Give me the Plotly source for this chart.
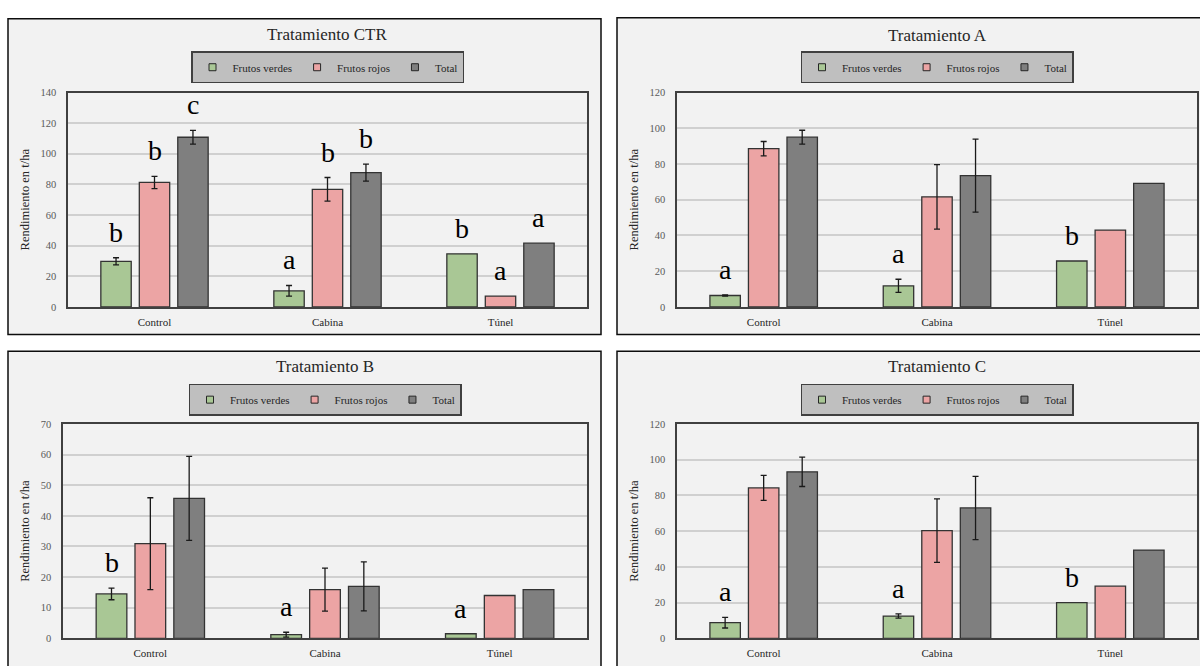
import plotly.graph_objects as go

W, H = 1200, 666
FONT = "'Liberation Serif', 'Times New Roman', serif"

categories = ["Control", "Cabina", "Túnel"]
series_names = ["Frutos verdes", "Frutos rojos", "Total"]
series_colors = ["#a9c795", "#eca4a4", "#7f7f7f"]

panel_titles = ["Tratamiento CTR", "Tratamiento A", "Tratamiento B", "Tratamiento C"]
y_max = [140, 120, 70, 120]
y_step = [20, 20, 10, 20]

# Yield means (t/ha) per panel: [Frutos verdes, Frutos rojos, Total] x [Control, Cabina, Túnel]
ctr_verdes = [29.8, 10.5, 34.7]
ctr_rojos = [81.3, 76.8, 7.1]
ctr_total = [110.8, 87.7, 41.6]

a_verdes = [6.4, 11.8, 25.7]
a_rojos = [88.6, 61.6, 43.0]
a_total = [95.0, 73.5, 69.1]

b_verdes = [14.5, 1.2, 1.5]
b_rojos = [30.9, 15.9, 14.0]
b_total = [45.7, 17.0, 15.9]

c_verdes = [8.8, 12.5, 20.0]
c_rojos = [84.2, 60.3, 29.2]
c_total = [93.2, 73.0, 49.4]

# Standard errors (None = no error bar)
ctr_verdes_err = [2.3, 3.5, None]
ctr_rojos_err = [4.0, 7.7, None]
ctr_total_err = [4.5, 5.6, None]

a_verdes_err = [0.4, 3.7, None]
a_rojos_err = [4.0, 18.0, None]
a_total_err = [3.9, 20.4, None]

b_verdes_err = [1.9, 0.8, None]
b_rojos_err = [15.0, 7.0, None]
b_total_err = [13.7, 8.0, None]

c_verdes_err = [3.0, 1.2, None]
c_rojos_err = [7.0, 17.8, None]
c_total_err = [8.2, 17.7, None]

# Significance letters: (category index, series index, letter)
ctr_letters = [(0, 0, "b"), (0, 1, "b"), (0, 2, "c"),
               (1, 0, "a"), (1, 1, "b"), (1, 2, "b"),
               (2, 0, "b"), (2, 1, "a"), (2, 2, "a")]
a_letters = [(0, 0, "a"), (1, 0, "a"), (2, 0, "b")]
b_letters = [(0, 0, "b"), (1, 0, "a"), (2, 0, "a")]
c_letters = [(0, 0, "a"), (1, 0, "a"), (2, 0, "b")]

values = [
    [ctr_verdes, ctr_rojos, ctr_total],
    [a_verdes, a_rojos, a_total],
    [b_verdes, b_rojos, b_total],
    [c_verdes, c_rojos, c_total],
]
errors = [
    [ctr_verdes_err, ctr_rojos_err, ctr_total_err],
    [a_verdes_err, a_rojos_err, a_total_err],
    [b_verdes_err, b_rojos_err, b_total_err],
    [c_verdes_err, c_rojos_err, c_total_err],
]
letters = [ctr_letters, a_letters, b_letters, c_letters]

# Layout in pixels: plot areas, panel frames, title / legend positions
plot_boxes = [(68, 587, 89, 307), (677, 1197, 89, 307),
              (63, 587, 426, 644), (677, 1197, 426, 644)]
frames = [(8, 601, 14, 335), (617, 1215, 13, 335),
          (8, 601, 352, 680), (617, 1215, 352, 680)]
title_y = [30, 31, 368, 368]
legend_top = [47, 47, 385, 385]

BAR_GAP = 0.333
GROUP_GAP = 0.21
slot = (1 - BAR_GAP) / 3


def px_x(v):
    return v / W


def px_y(v):
    return 1 - v / H


def error_array(errs):
    # plotly skips error bars for points beyond the end of the array,
    # so trailing missing values are dropped instead of drawn as zero
    out = list(errs)
    while out and out[-1] is None:
        out.pop()
    return out


fig = go.Figure()
annotations = []
shapes = []

for p in range(4):
    sfx = "" if p == 0 else str(p + 1)
    xa, ya = "x" + sfx, "y" + sfx
    leg = "legend" + sfx
    for k in range(3):
        fig.add_trace(go.Bar(
            x=categories, y=values[p][k], name=series_names[k],
            xaxis=xa, yaxis=ya, showlegend=False,
            marker=dict(color=series_colors[k], line=dict(color="#333333", width=1.3)),
            error_y=dict(type="data", array=error_array(errors[p][k]), visible=True,
                         color="#1a1a1a", thickness=1.3, width=3),
        ))
    # legend entries drawn as small squares
    for k in range(3):
        fig.add_trace(go.Scatter(
            x=[None], y=[None], mode="markers", name=series_names[k],
            xaxis=xa, yaxis=ya, legend=leg, showlegend=True,
            marker=dict(symbol="square", size=7, color=series_colors[k],
                        line=dict(color="#262626", width=1)),
        ))

    x0, x1, y0, y1 = plot_boxes[p]
    axis_common = dict(showline=True, mirror=True, linecolor="#404040", linewidth=1.5)
    fig.layout["xaxis" + sfx] = dict(
        domain=[px_x(x0), px_x(x1)], anchor=ya, type="category",
        categoryorder="array", categoryarray=categories,
        tickfont=dict(family=FONT, size=11, color="#262626"),
        showgrid=False, ticks="", ticklabelstandoff=4, **axis_common)
    fig.layout["yaxis" + sfx] = dict(
        domain=[px_y(y1), px_y(y0)], anchor=xa, range=[0, y_max[p]],
        dtick=y_step[p], tick0=0,
        tickfont=dict(family=FONT, size=10.5, color="#595959"),
        showgrid=True, gridcolor="#d0d0d0", gridwidth=1.5, zeroline=False,
        ticks="", ticklabelstandoff=8,
        title=dict(text="Rendimiento en t/ha", standoff=8,
                   font=dict(family=FONT, size=12.5, color="#262626")),
        **axis_common)

    cx = (x0 + x1) / 2
    annotations.append(dict(
        text=panel_titles[p], xref="paper", yref="paper",
        x=px_x(cx), y=px_y(title_y[p]), xanchor="center", yanchor="middle",
        showarrow=False, font=dict(family=FONT, size=17, color="#262626")))

    fig.layout[leg] = dict(
        orientation="h", x=px_x(cx), y=px_y(legend_top[p]),
        xanchor="center", yanchor="top", xref="paper", yref="paper",
        bgcolor="#bfbfbf", bordercolor="#404040", borderwidth=1.5,
        font=dict(family=FONT, size=11, color="#262626"),
        itemclick=False, itemdoubleclick=False)

    for (ci, k, letter) in letters[p]:
        top = values[p][k][ci] + (errors[p][k][ci] or 0)
        annotations.append(dict(
            text=letter, xref=xa, yref=ya,
            x=ci + (k - 1) * slot, y=top, xanchor="center", yanchor="bottom",
            yshift=8, showarrow=False,
            font=dict(family=FONT, size=28, color="#000000")))

    fx0, fx1, fy0, fy1 = frames[p]
    shapes.append(dict(
        type="rect", xref="paper", yref="paper", layer="below",
        x0=px_x(fx0), x1=px_x(fx1), y0=px_y(fy1), y1=px_y(fy0),
        fillcolor="#f2f2f2", line=dict(color="#0d0d0d", width=1.5)))

fig.update_layout(
    width=W, height=H, margin=dict(l=0, r=0, t=0, b=0),
    paper_bgcolor="#ffffff", plot_bgcolor="#f2f2f2",
    barmode="group", bargap=BAR_GAP, bargroupgap=GROUP_GAP,
    annotations=annotations, shapes=shapes,
    font=dict(family=FONT, color="#262626"),
)

fig.write_html("out.html")
